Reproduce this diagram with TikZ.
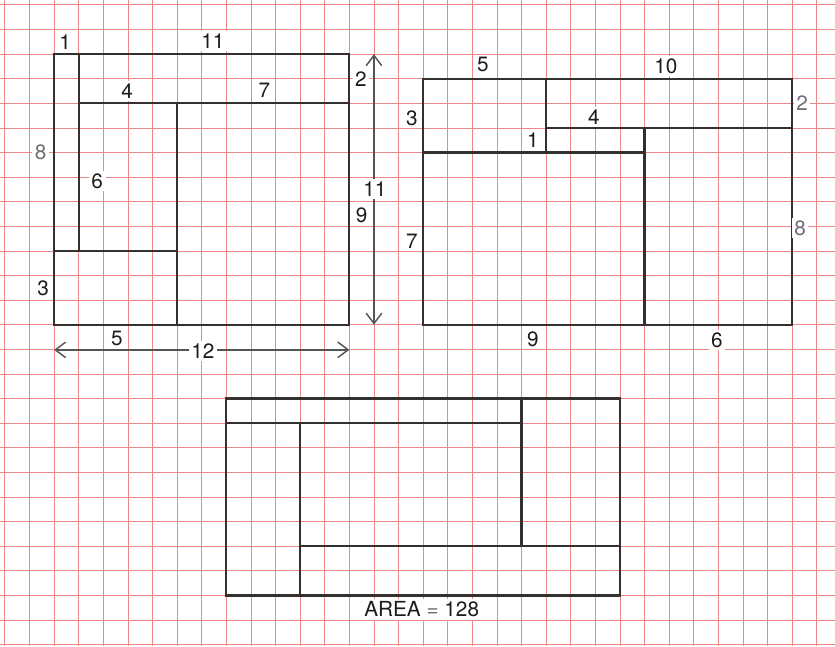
\documentclass[tikz,border=0pt]{standalone}
\usepackage{fontspec}
\setmainfont{TeX Gyre Heros}
\usetikzlibrary{arrows.meta}

\definecolor{gridred}{RGB}{238,135,135}
\definecolor{wallgray}{RGB}{52,48,48}
\definecolor{dimgray}{RGB}{85,85,85}
\definecolor{lbldark}{RGB}{28,28,28}
\definecolor{lblpale}{RGB}{110,110,116}

\tikzset{
  gridline/.style={draw=gridred, line width=0.5pt},
  wall/.style={draw=wallgray, line width=1.3pt},
  dimline/.style={draw=dimgray, line width=0.85pt, {Straight Barb[length=6pt,width=9pt]}-{Straight Barb[length=6pt,width=9pt]}},
  lbl/.style={fill=white, inner sep=1.5pt, text=lbldark, font=\fontsize{12}{14}\selectfont},
  palelbl/.style={lbl, text=lblpale}
}

\begin{document}
\begin{tikzpicture}[x=0.5cm, y=0.5cm]
\useasboundingbox (-0.2,0.2) rectangle (33.74,-26.06);
% squared paper
\foreach \gx in {0,...,33} \draw[gridline] (\gx,0.2) -- (\gx,-26.06);
\foreach \gy in {0,...,26} \draw[gridline] (-0.2,-\gy) -- (33.74,-\gy);

% first plan, 12 by 11
\draw[wall] (2,-2) rectangle (14,-13);
\draw[wall] (3,-2) -- (3,-10);
\draw[wall] (2,-10) -- (7,-10);
\draw[wall] (3,-4) -- (14,-4);
\draw[wall] (7,-4) -- (7,-13);

% second plan, 15 by 10
\draw[wall] (17,-3) rectangle (32,-13);
\draw[wall] (22,-3) -- (22,-6);
\draw[wall] (17,-6) -- (26,-6);
\draw[wall] (22,-5) -- (32,-5);
\draw[wall] (26,-5) -- (26,-13);

% third plan, 16 by 8
\draw[wall] (9,-16) rectangle (25,-24);
\draw[wall] (9,-17) -- (21,-17);
\draw[wall] (21,-16) -- (21,-22);
\draw[wall] (12,-17) -- (12,-24);
\draw[wall] (12,-22) -- (25,-22);

% dimension arrows
\coordinate (wleft) at (2,-14.02);
\coordinate (wright) at (14,-14.02);
\coordinate (htop) at (15,-2);
\coordinate (hbot) at (15,-13);
\draw[dimline] (wleft) -- (wright);
\draw[dimline] (htop) -- (hbot);
\node[lbl] (wtot) at (8.05,-14.07) {12};
\node[lbl] (htot) at (15.04,-7.48) {11};

% labels, first plan
\node[lbl] (a1) at (2.45,-1.5) {1};
\node[lbl] (a11) at (8.45,-1.47) {11};
\node[lbl] (a4) at (4.97,-3.5) {4};
\node[lbl] (a7) at (10.55,-3.45) {7};
\node[lbl] (a2) at (14.47,-3.0) {2};
\node[palelbl] (a8) at (1.45,-6.0) {8};
\node[lbl] (a6) at (3.75,-7.15) {6};
\node[lbl] (a9) at (14.5,-8.55) {9};
\node[lbl] (a3) at (1.55,-11.5) {3};
\node[lbl] (a5) at (4.55,-13.55) {5};

% labels, second plan
\node[lbl] (b5) at (19.43,-2.44) {5};
\node[lbl] (b10) at (26.87,-2.48) {10};
\node[lbl] (b3) at (16.54,-4.59) {3};
\node[lbl] (b4) at (23.94,-4.55) {4};
\node[lbl] (b1) at (21.46,-5.49) {1};
\node[palelbl] (b2) at (32.4,-3.98) {2};
\node[lbl] (b7) at (16.54,-9.59) {7};
\node[palelbl] (b8) at (32.32,-9.07) {8};
\node[lbl] (b9) at (21.46,-13.58) {9};
\node[lbl] (b6) at (28.94,-13.62) {6};

% third plan
\node[lbl] (area) at (16.94,-24.57) {AREA \textcolor{lblpale}{=} 128};
\end{tikzpicture}
\end{document}
